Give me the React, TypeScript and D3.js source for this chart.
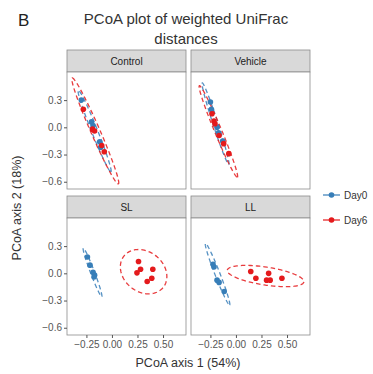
import {useLayoutEffect, useRef} from 'react'
import * as d3 from 'd3'

const FONT = '"Liberation Sans", Arial, Helvetica, sans-serif'

// facet layout (pixel frame of the 373x374 picture)
const COL_X = [67, 191]
const ROW_Y = [72, 218]
const PW = 119
const PH = 117
const STRIP_H = 22

const facets = ['Control', 'Vehicle', 'SL', 'LL']
const days = ['Day0', 'Day6']
const dayColors = ['#377EB8', '#E41A1C']

const xTicks = [-0.25, 0, 0.25, 0.5]
const yTicks = [0.3, 0, -0.3, -0.6]

// PCoA coordinates [axis1, axis2]
const controlDay0 = [[-0.3, 0.3], [-0.2, 0.06], [-0.185, 0.02], [-0.12, -0.16], [-0.11, -0.22]]
const controlDay6 = [[-0.28, 0.2], [-0.19, -0.02], [-0.17, -0.04], [-0.1, -0.2], [-0.075, -0.27]]
const vehicleDay0 = [[-0.25, 0.28], [-0.24, 0.2], [-0.185, 0.0], [-0.17, -0.06], [-0.13, -0.15]]
const vehicleDay6 = [[-0.235, 0.15], [-0.215, 0.07], [-0.205, 0.04], [-0.165, -0.09], [-0.12, -0.18], [-0.07, -0.29]]
const slDay0 = [[-0.24, 0.18], [-0.215, 0.09], [-0.185, 0.01], [-0.17, -0.02], [-0.175, -0.04]]
const slDay6 = [[0.26, 0.13], [0.28, 0.045], [0.245, 0.005], [0.4, 0.045], [0.39, -0.055], [0.345, -0.09]]
const llDay0 = [[-0.225, 0.1], [-0.215, 0.07], [-0.185, -0.075], [-0.165, -0.1], [-0.115, -0.2]]
const llDay6 = [[0.145, 0.02], [0.195, -0.055], [0.32, 0.0], [0.3, -0.075], [0.335, -0.075], [0.45, -0.055]]

// 95% ellipses: centre, two conjugate half-axes (data units)
const controlEll0 = [-0.17, -0.04, 0.16, -0.45, 0.0275, 0.0122]
const controlEll6 = [-0.163, -0.04, 0.226, -0.584, 0.041, 0.0197]
const vehicleEll0 = [-0.2, 0.04, 0.13, -0.45, 0.0235, 0.0085]
const vehicleEll6 = [-0.172, -0.046, 0.186, -0.505, 0.032, 0.0147]
const slEll0 = [-0.19, 0.01, 0.09, -0.267, 0.0185, 0.0078]
const slEll6 = [0.31, 0.018, 0.189, -0.177, -0.127, -0.169]
const llEll0 = [-0.18, -0.01, 0.118, -0.34, 0.023, 0.0099]
const llEll6 = [0.29, -0.03, 0.375, -0.0645, -0.0135, -0.098]

const facetPoints = [
  [controlDay0, controlDay6],
  [vehicleDay0, vehicleDay6],
  [slDay0, slDay6],
  [llDay0, llDay6],
]
const facetEllipses = [
  [controlEll0, controlEll6],
  [vehicleEll0, vehicleEll6],
  [slEll0, slEll6],
  [llEll0, llEll6],
]

const xScale = d3.scaleLinear().domain([-0.44, 0.725]).range([0, PW])
const yScale = d3.scaleLinear().domain([-0.68, 0.61]).range([PH, 0])

const ellipsePath = (e: number[]) => {
  const [cx, cy, ux, uy, vx, vy] = e
  const ts = d3.range(0, 101).map(i => (i / 100) * Math.PI * 2)
  return d3
    .line<number>()
    .x(t => xScale(cx + Math.cos(t) * ux + Math.sin(t) * vx))
    .y(t => yScale(cy + Math.cos(t) * uy + Math.sin(t) * vy))(ts) as string
}

const Panel = ({i}: {i: number}) => {
  const axesRef = useRef(null)
  const col = i % 2
  const row = Math.floor(i / 2)
  const x0 = COL_X[col]
  const y0 = ROW_Y[row]

  useLayoutEffect(() => {
    const g = d3.select(axesRef.current)
    g.selectAll('*').remove()
    if (col === 0) {
      g.append('g').call(
        d3.axisLeft(yScale).tickValues(yTicks).tickSize(3).tickPadding(2).tickFormat(d3.format('.1f'))
      )
    }
    if (row === 1) {
      g.append('g')
        .attr('transform', `translate(0,${PH})`)
        .call(
          d3.axisBottom(xScale).tickValues(xTicks).tickSize(3).tickPadding(3).tickFormat(d3.format('.2f'))
        )
    }
    g.selectAll('.domain').remove()
    g.selectAll('line').attr('stroke', '#555')
    g.selectAll('text')
      .attr('fill', '#555')
      .style('font-size', '10px')
      .style('font-family', FONT)
  }, [col, row])

  return (
    <g transform={`translate(${x0},${y0})`}>
      <rect x={0} y={-STRIP_H} width={PW} height={STRIP_H} fill="#d9d9d9" stroke="#8c8c8c" strokeWidth={0.8} />
      <text
        x={PW / 2}
        y={-STRIP_H / 2}
        dy="0.35em"
        textAnchor="middle"
        fontSize={10}
        fill="#222"
        style={{fontFamily: FONT}}>
        {facets[i]}
      </text>
      <rect x={0} y={0} width={PW} height={PH} fill="#fff" stroke="#8c8c8c" strokeWidth={0.8} />
      {facetEllipses[i].map((e, d) => (
        <path
          key={'e' + d}
          d={ellipsePath(e)}
          fill="none"
          stroke={dayColors[d]}
          strokeWidth={1.3}
          strokeDasharray="4.5,3"
          opacity={0.85}
        />
      ))}
      {facetPoints[i].map((pts, d) =>
        pts.map((p, k) => (
          <circle key={d + '-' + k} cx={xScale(p[0])} cy={yScale(p[1])} r={2.8} fill={dayColors[d]} />
        ))
      )}
      <g ref={axesRef} />
    </g>
  )
}

export default function App() {
  return (
    <svg width={373} height={374} style={{position: 'absolute', left: 0, top: 0}}>
      <rect width={373} height={374} fill="#fff" />
      <text x={18} y={26} fontSize={17} fill="#222" style={{fontFamily: FONT}}>
        B
      </text>
      <text x={186} y={24} fontSize={15} textAnchor="middle" fill="#333" style={{fontFamily: FONT}}>
        PCoA plot of weighted UniFrac
      </text>
      <text x={186} y={44} fontSize={15} textAnchor="middle" fill="#333" style={{fontFamily: FONT}}>
        distances
      </text>
      {facets.map((f, i) => (
        <Panel key={f} i={i} />
      ))}
      <text x={188} y={367} fontSize={12.5} textAnchor="middle" fill="#333" style={{fontFamily: FONT}}>
        PCoA axis 1 (54%)
      </text>
      <text
        transform="translate(21,208) rotate(-90)"
        fontSize={12.5}
        textAnchor="middle"
        fill="#333"
        style={{fontFamily: FONT}}>
        PCoA axis 2 (18%)
      </text>
      {days.map((d, k) => (
        <g key={d} transform={`translate(323,${195 + k * 25})`}>
          <line x1={0} x2={17} y1={0} y2={0} stroke={dayColors[k]} strokeWidth={1.2} />
          <circle cx={8.5} cy={0} r={2.8} fill={dayColors[k]} />
          <text x={21} y={0} dy="0.35em" fontSize={10} fill="#333" style={{fontFamily: FONT}}>
            {d}
          </text>
        </g>
      ))}
    </svg>
  )
}
